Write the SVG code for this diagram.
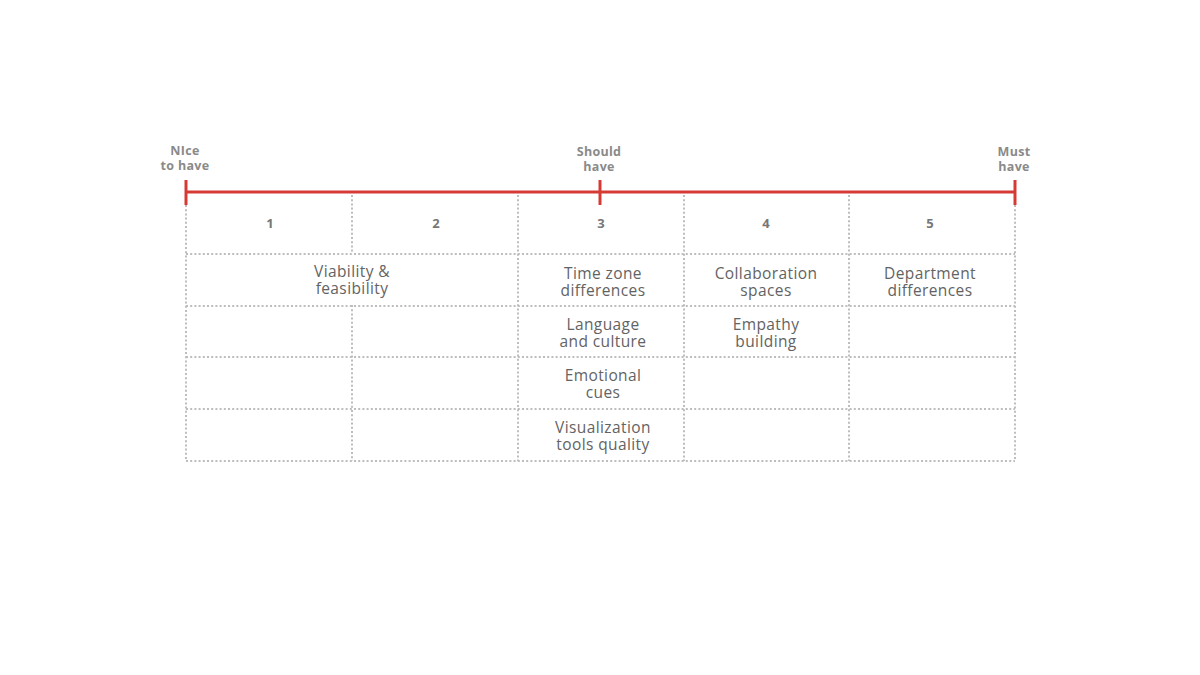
<svg xmlns="http://www.w3.org/2000/svg" width="1200" height="675" viewBox="0 0 1200 675">
<style>
.dot{stroke:#bdbdbd;stroke-width:2;stroke-dasharray:2 2.2;fill:none}
.red{stroke:#d63a35;stroke-width:3;fill:none}
.hdr{font-family:"Open Sans","Liberation Sans",sans-serif;font-size:12.5px;font-weight:700;fill:#8a8a8a;text-anchor:middle;letter-spacing:0.3px}
.num{font-family:"Open Sans","Liberation Sans",sans-serif;font-size:13px;font-weight:700;fill:#777;text-anchor:middle}
.lbl{font-family:"Open Sans","Liberation Sans",sans-serif;font-size:15.5px;font-weight:500;fill:#636363;text-anchor:middle;letter-spacing:0.4px}
</style>
<rect width="1200" height="675" fill="#fff"/>
<g id="grid">
<line class="dot" x1="186" y1="205" x2="186" y2="461"/>
<line class="dot" x1="352" y1="195" x2="352" y2="253"/>
<line class="dot" x1="352" y1="305" x2="352" y2="461"/>
<line class="dot" x1="518" y1="195" x2="518" y2="461"/>
<line class="dot" x1="684" y1="195" x2="684" y2="461"/>
<line class="dot" x1="849" y1="195" x2="849" y2="461"/>
<line class="dot" x1="1015" y1="205" x2="1015" y2="461"/>
<line class="dot" x1="186" y1="254" x2="1015" y2="254"/>
<line class="dot" x1="186" y1="306" x2="1015" y2="306"/>
<line class="dot" x1="186" y1="357" x2="1015" y2="357"/>
<line class="dot" x1="186" y1="409" x2="1015" y2="409"/>
<line class="dot" x1="186" y1="461" x2="1015" y2="461"/>
</g>
<g id="scale">
<line class="red" x1="186" y1="192" x2="1015" y2="192"/>
<line class="red" x1="186" y1="180" x2="186" y2="205"/>
<line class="red" x1="600" y1="180" x2="600" y2="205"/>
<line class="red" x1="1015" y1="180" x2="1015" y2="205"/>
</g>
<g id="scale-labels">
<text class="hdr"><tspan x="185" y="155">NIce</tspan><tspan x="185" y="170">to have</tspan></text>
<text class="hdr"><tspan x="599" y="156">Should</tspan><tspan x="599" y="171">have</tspan></text>
<text class="hdr"><tspan x="1014" y="156">Must</tspan><tspan x="1014" y="171">have</tspan></text>
</g>
<g id="numbers">
<text class="num" x="270" y="228">1</text>
<text class="num" x="436" y="228">2</text>
<text class="num" x="601" y="228">3</text>
<text class="num" x="766" y="228">4</text>
<text class="num" x="930" y="228">5</text>
</g>
<g id="n-viability"><text class="lbl"><tspan x="352" y="277">Viability &amp;</tspan><tspan x="352" y="294">feasibility</tspan></text></g>
<g id="n-timezone"><text class="lbl"><tspan x="603" y="279">Time zone</tspan><tspan x="603" y="296">differences</tspan></text></g>
<g id="n-collab"><text class="lbl"><tspan x="766" y="279">Collaboration</tspan><tspan x="766" y="296">spaces</tspan></text></g>
<g id="n-dept"><text class="lbl"><tspan x="930" y="279">Department</tspan><tspan x="930" y="296">differences</tspan></text></g>
<g id="n-language"><text class="lbl"><tspan x="603" y="330">Language</tspan><tspan x="603" y="347">and culture</tspan></text></g>
<g id="n-empathy"><text class="lbl"><tspan x="766" y="330">Empathy</tspan><tspan x="766" y="347">building</tspan></text></g>
<g id="n-emotional"><text class="lbl"><tspan x="603" y="381">Emotional</tspan><tspan x="603" y="398">cues</tspan></text></g>
<g id="n-visual"><text class="lbl"><tspan x="603" y="433">Visualization</tspan><tspan x="603" y="450">tools quality</tspan></text></g>
</svg>
